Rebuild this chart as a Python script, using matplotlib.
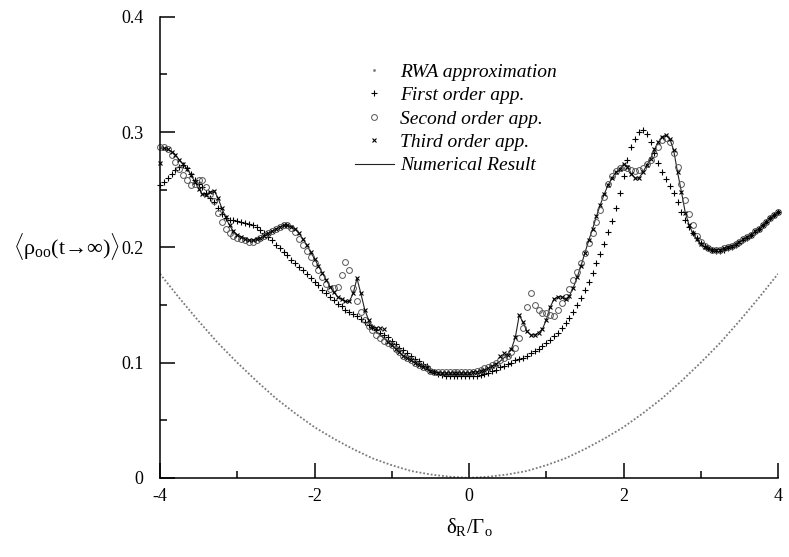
import numpy as np
import matplotlib
matplotlib.use("Agg")
import matplotlib.pyplot as plt
from matplotlib.lines import Line2D

plt.rcParams['font.family'] = ['Liberation Serif', 'DejaVu Serif']
plt.rcParams['mathtext.fontset'] = 'custom'
plt.rcParams['mathtext.rm'] = 'Liberation Serif'
plt.rcParams['mathtext.it'] = 'Liberation Serif'
plt.rcParams['axes.unicode_minus'] = False

# detuning grid (step 0.05) shared by the approximations and numerics
x = np.linspace(-4, 4, 161)

numerical = [
    0.286, 0.286, 0.285, 0.283, 0.280, 0.276, 0.272, 0.268, 0.263, 0.257,
    0.251, 0.246, 0.245, 0.248, 0.249, 0.243, 0.234, 0.226, 0.219, 0.214,
    0.211, 0.209, 0.207, 0.206, 0.206, 0.207, 0.208, 0.210, 0.212, 0.214,
    0.216, 0.218, 0.219, 0.219, 0.218, 0.216, 0.212, 0.207, 0.202, 0.196,
    0.190, 0.184, 0.178, 0.172, 0.166, 0.161, 0.157, 0.155, 0.153, 0.153,
    0.160, 0.173, 0.160, 0.146, 0.137, 0.131, 0.127, 0.124, 0.121, 0.118,
    0.115, 0.112, 0.109, 0.106, 0.104, 0.102, 0.100, 0.098, 0.096, 0.095,
    0.093, 0.092, 0.091, 0.091, 0.091, 0.091, 0.091, 0.091, 0.091, 0.091,
    0.091, 0.092, 0.092, 0.093, 0.094, 0.095, 0.097, 0.099, 0.101, 0.104,
    0.107, 0.112, 0.122, 0.141, 0.135, 0.127, 0.124, 0.124, 0.126, 0.129,
    0.137, 0.148, 0.155, 0.157, 0.157, 0.155, 0.158, 0.165, 0.174, 0.184,
    0.195, 0.206, 0.216, 0.227, 0.237, 0.246, 0.254, 0.260, 0.265, 0.268,
    0.272, 0.270, 0.264, 0.260, 0.260, 0.265, 0.271, 0.277, 0.285, 0.291,
    0.296, 0.297, 0.294, 0.284, 0.265, 0.248, 0.230, 0.219, 0.212, 0.207,
    0.203, 0.200, 0.199, 0.198, 0.198, 0.198, 0.199, 0.200, 0.201, 0.203,
    0.205, 0.207, 0.209, 0.211, 0.214, 0.216, 0.219, 0.222, 0.225, 0.228,
    0.231]

third = [
    0.273, 0.286, 0.285, 0.283, 0.280, 0.276, 0.272, 0.268, 0.263, 0.257,
    0.251, 0.246, 0.245, 0.248, 0.249, 0.243, 0.234, 0.226, 0.219, 0.214,
    0.211, 0.209, 0.207, 0.206, 0.206, 0.207, 0.208, 0.210, 0.212, 0.214,
    0.216, 0.218, 0.219, 0.219, 0.218, 0.216, 0.212, 0.207, 0.202, 0.196,
    0.190, 0.184, 0.178, 0.172, 0.166, 0.161, 0.157, 0.155, 0.153, 0.153,
    0.160, 0.173, 0.160, 0.146, 0.137, 0.131, 0.130, 0.130, 0.129, 0.118,
    0.115, 0.112, 0.109, 0.106, 0.104, 0.102, 0.100, 0.098, 0.096, 0.095,
    0.093, 0.092, 0.091, 0.091, 0.091, 0.091, 0.091, 0.091, 0.091, 0.091,
    0.091, 0.092, 0.092, 0.093, 0.094, 0.095, 0.097, 0.099, 0.106, 0.108,
    0.107, 0.112, 0.122, 0.141, 0.135, 0.127, 0.124, 0.124, 0.126, 0.129,
    0.137, 0.148, 0.155, 0.157, 0.157, 0.155, 0.158, 0.165, 0.174, 0.184,
    0.195, 0.206, 0.216, 0.227, 0.237, 0.246, 0.254, 0.260, 0.265, 0.268,
    0.272, 0.270, 0.264, 0.260, 0.260, 0.265, 0.271, 0.277, 0.285, 0.291,
    0.296, 0.297, 0.294, 0.284, 0.265, 0.248, 0.230, 0.219, 0.212, 0.207,
    0.203, 0.200, 0.199, 0.198, 0.198, 0.198, 0.199, 0.200, 0.201, 0.203,
    0.205, 0.207, 0.209, 0.211, 0.214, 0.216, 0.219, 0.222, 0.225, 0.228,
    0.231]

second = [
    0.287, 0.287, 0.285, 0.280, 0.274, 0.268, 0.263, 0.258, 0.254, 0.255,
    0.258, 0.258, 0.252, 0.246, 0.240, 0.230, 0.222, 0.216, 0.212, 0.210,
    0.208, 0.207, 0.206, 0.205, 0.205, 0.206, 0.208, 0.210, 0.212, 0.214,
    0.216, 0.218, 0.219, 0.219, 0.217, 0.213, 0.207, 0.202, 0.197, 0.192,
    0.186, 0.180, 0.174, 0.168, 0.164, 0.165, 0.166, 0.176, 0.187, 0.180,
    0.165, 0.153, 0.144, 0.137, 0.132, 0.128, 0.124, 0.121, 0.119, 0.117,
    0.115, 0.112, 0.109, 0.106, 0.104, 0.102, 0.100, 0.098, 0.096, 0.095,
    0.093, 0.092, 0.092, 0.092, 0.092, 0.092, 0.092, 0.092, 0.092, 0.092,
    0.092, 0.092, 0.093, 0.094, 0.095, 0.096, 0.098, 0.100, 0.102, 0.104,
    0.106, 0.109, 0.113, 0.121, 0.130, 0.148, 0.160, 0.150, 0.146, 0.143,
    0.143, 0.141, 0.140, 0.146, 0.152, 0.157, 0.164, 0.172, 0.179, 0.186,
    0.195, 0.204, 0.212, 0.222, 0.232, 0.244, 0.255, 0.262, 0.266, 0.269,
    0.270, 0.269, 0.267, 0.266, 0.267, 0.269, 0.272, 0.276, 0.281, 0.287,
    0.293, 0.295, 0.291, 0.282, 0.270, 0.255, 0.241, 0.229, 0.219, 0.210,
    0.205, 0.201, 0.199, 0.198, 0.198, 0.198, 0.199, 0.200, 0.201, 0.203,
    0.205, 0.207, 0.209, 0.211, 0.214, 0.216, 0.219, 0.222, 0.225, 0.228,
    0.231]

first = [
    0.254, 0.257, 0.260, 0.264, 0.267, 0.270, 0.271, 0.269, 0.264, 0.258,
    0.255, 0.252, 0.247, 0.243, 0.239, 0.234, 0.229, 0.225, 0.224, 0.224,
    0.223, 0.222, 0.221, 0.220, 0.219, 0.218, 0.215, 0.212, 0.209, 0.206,
    0.202, 0.199, 0.196, 0.193, 0.189, 0.186, 0.183, 0.180, 0.177, 0.173,
    0.170, 0.167, 0.163, 0.160, 0.157, 0.154, 0.151, 0.149, 0.146, 0.144,
    0.142, 0.140, 0.138, 0.135, 0.133, 0.131, 0.128, 0.126, 0.124, 0.122,
    0.119, 0.116, 0.113, 0.111, 0.108, 0.106, 0.103, 0.101, 0.099, 0.097,
    0.094, 0.092, 0.090, 0.089, 0.088, 0.088, 0.088, 0.088, 0.088, 0.088,
    0.088, 0.088, 0.088, 0.089, 0.090, 0.091, 0.093, 0.094, 0.096, 0.097,
    0.099, 0.100, 0.102, 0.103, 0.104, 0.106, 0.108, 0.110, 0.112, 0.114,
    0.117, 0.120, 0.123, 0.126, 0.130, 0.134, 0.139, 0.144, 0.150, 0.156,
    0.163, 0.170, 0.178, 0.186, 0.194, 0.203, 0.213, 0.223, 0.234, 0.247,
    0.262, 0.276, 0.287, 0.294, 0.300, 0.302, 0.298, 0.291, 0.282, 0.273,
    0.265, 0.259, 0.253, 0.247, 0.239, 0.231, 0.224, 0.218, 0.212, 0.208,
    0.204, 0.201, 0.199, 0.198, 0.197, 0.197, 0.198, 0.199, 0.200, 0.202,
    0.204, 0.206, 0.208, 0.211, 0.213, 0.216, 0.219, 0.222, 0.225, 0.228,
    0.231]

# RWA curve, step 0.25
rwa_x = np.linspace(-4, 4, 33)
rwa = [0.177, 0.156, 0.136, 0.117, 0.100, 0.084, 0.069, 0.056, 0.044,
       0.034, 0.025, 0.017, 0.011, 0.006, 0.003, 0.001, 0.000, 0.001,
       0.003, 0.006, 0.011, 0.017, 0.025, 0.034, 0.044, 0.056, 0.069,
       0.084, 0.100, 0.117, 0.136, 0.156, 0.177]

labels = ['RWA approximation', 'First order app.', 'Second order app.',
          'Third order app.', 'Numerical Result']

fig = plt.figure(figsize=(7.89, 5.57), dpi=100)
ax = fig.add_axes([160 / 789, 0.142, 618 / 789, 0.828])

ax.plot(rwa_x, rwa, color='#7a7a7a', lw=1.3, linestyle=(0, (1, 1.1)))
ax.plot(x, numerical, color='#222222', lw=0.8)
ax.plot(x, first, '+', color='black', ms=5, mew=0.8, clip_on=False)
ax.plot(x, second, 'o', mfc='none', mec='#555555', ms=4.2, mew=0.7, clip_on=False)
ax.plot(x, third, 'x', color='black', ms=3.5, mew=0.8, clip_on=False)

ax.set_xlim(-4, 4)
ax.set_ylim(0, 0.4)
ax.set_xticks([-4, -2, 0, 2, 4])
ax.set_xticks([-3, -1, 1, 3], minor=True)
ax.set_yticks([0, 0.1, 0.2, 0.3, 0.4])
ax.set_yticklabels(['0', '0.1', '0.2', '0.3', '0.4'])
ax.set_yticks([0.05, 0.15, 0.25, 0.35], minor=True)
ax.tick_params(which='both', direction='in', labelsize=13, width=1.1)
ax.tick_params(which='major', length=11)
ax.tick_params(which='minor', length=5)
ax.tick_params(axis='y', pad=12)
ax.tick_params(axis='x', pad=7)
for s in ['top', 'right']:
    ax.spines[s].set_visible(False)
for s in ['left', 'bottom']:
    ax.spines[s].set_linewidth(1.1)

fig.text(67 / 789, 1 - 247 / 557,
         r'$\langle\rho_{\mathrm{oo}}$(t→∞)$\rangle$',
         fontsize=16, ha='center', va='center')
fig.text(469 / 789, 1 - 527 / 557, r'$\delta_R/\Gamma_o$', fontsize=15,
         ha='center', va='center')

handles = [
    Line2D([], [], ls='none', marker='.', ms=2, color='#7a7a7a'),
    Line2D([], [], ls='none', marker='+', ms=5, mew=0.8, color='black'),
    Line2D([], [], ls='none', marker='o', ms=4.2, mfc='none', mec='#555555', mew=0.7),
    Line2D([], [], ls='none', marker='x', ms=3.5, mew=0.8, color='black'),
    Line2D([], [], color='#222222', lw=0.8),
]
leg = fig.legend(handles, labels, loc='upper left', bbox_to_anchor=(355 / 789, 1 - 63 / 557),
                 frameon=False, prop={'style': 'italic', 'size': 14},
                 handlelength=2.0, handletextpad=0.3, labelspacing=0.3,
                 borderpad=0, borderaxespad=0)

fig.savefig('out.png', dpi=100)
